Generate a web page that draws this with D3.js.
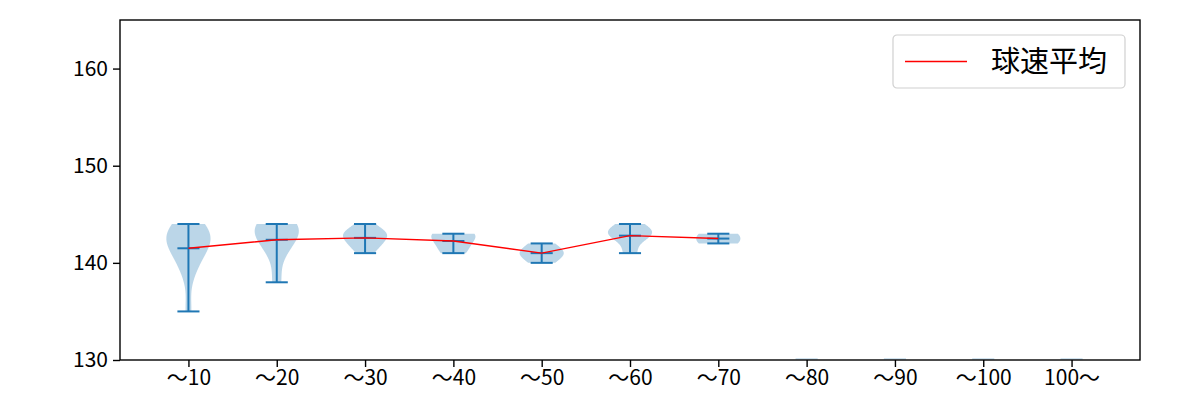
<!DOCTYPE html>
<html>
<head>
<meta charset="utf-8">
<script src="https://cdn.jsdelivr.net/npm/d3@7"></script>
<style>
  html, body { margin: 0; padding: 0; background: #fff; }
  svg { display: block; }
</style>
</head>
<body>
<svg id="chart" width="1200" height="400"></svg>
<script>
// ---- data ----
const categories = ["～10", "～20", "～30", "～40", "～50", "～60", "～70", "～80", "～90", "～100", "100～"];
// estimated pitch speeds (km/h) per category
const speeds10 = [135, 139, 140, 141, 142, 142, 142, 143, 143, 143, 144, 144];
const speeds20 = [138, 141, 142, 143, 143, 144, 144, 144];
const speeds30 = [141, 142, 142, 143, 143, 143, 144];
const speeds40 = [141, 142, 143, 143];
const speeds50 = [140, 141, 141, 142];
const speeds60 = [141, 143, 143, 143, 144];
const speeds70 = [142, 143];
const speeds80 = [];
const speeds90 = [];
const speeds100 = [];
const speeds100plus = [];
const seriesData = [speeds10, speeds20, speeds30, speeds40, speeds50, speeds60, speeds70,
                    speeds80, speeds90, speeds100, speeds100plus];
const yTicks = [130, 140, 150, 160];
const legendLabel = "球速平均";

// ---- layout ----
const W = 1200, H = 400;
const m = { left: 120, right: 60, top: 20, bottom: 40 };
const pw = W - m.left - m.right, ph = H - m.top - m.bottom;
const violinWidth = 0.5;

const svg = d3.select("#chart");
const g = svg.append("g").attr("transform", `translate(${m.left},${m.top})`);

const n = categories.length;
const span = (n + violinWidth / 2) - (1 - violinWidth / 2);
const x = d3.scaleLinear()
  .domain([1 - violinWidth / 2 - span * 0.05, n + violinWidth / 2 + span * 0.05])
  .range([0, pw]);
const y = d3.scaleLinear().domain([130, 165]).range([ph, 0]);

const blue = "#1f77b4";

// gaussian KDE, scott bandwidth (like matplotlib)
function violinStats(data) {
  const k = data.length;
  const mean = d3.mean(data);
  const sd = d3.deviation(data);
  const bw = Math.pow(k, -0.2) * sd;
  const lo = d3.min(data), hi = d3.max(data);
  const coords = d3.range(100).map(i => lo + (hi - lo) * i / 99);
  const dens = coords.map(c => d3.sum(data, v => Math.exp(-0.5 * ((c - v) / bw) ** 2)) / (k * bw * Math.sqrt(2 * Math.PI)));
  const mx = d3.max(dens);
  return { mean, lo, hi, pts: coords.map((c, i) => ({ v: c, w: 0.5 * violinWidth * dens[i] / mx })) };
}

const stats = seriesData.map((d, i) => d.length ? Object.assign({ pos: i + 1 }, violinStats(d)) : { pos: i + 1, empty: true });

// violin bodies
stats.filter(s => !s.empty).forEach(s => {
  const area = d3.area()
    .y(p => y(p.v))
    .x0(p => x(s.pos - p.w))
    .x1(p => x(s.pos + p.w))
    .curve(d3.curveLinear);
  g.append("path").datum(s.pts).attr("d", area)
    .attr("fill", blue).attr("fill-opacity", 0.3).attr("stroke", "none");
});

// lines: vertical bar, extrema caps, mean
const cap = violinWidth * 0.25;
stats.filter(s => !s.empty).forEach(s => {
  const ln = (x1, y1, x2, y2) => g.append("line")
    .attr("x1", x1).attr("y1", y1).attr("x2", x2).attr("y2", y2)
    .attr("stroke", blue).attr("stroke-width", 2);
  ln(x(s.pos), y(s.lo), x(s.pos), y(s.hi));
  ln(x(s.pos - cap), y(s.hi), x(s.pos + cap), y(s.hi));
  ln(x(s.pos - cap), y(s.lo), x(s.pos + cap), y(s.lo));
  ln(x(s.pos - cap), y(s.mean), x(s.pos + cap), y(s.mean));
});
// empty categories: faint degenerate marks at the axis floor
stats.filter(s => s.empty).forEach(s => {
  g.append("line")
    .attr("x1", x(s.pos - cap)).attr("x2", x(s.pos + cap))
    .attr("y1", y.range()[0] - 1).attr("y2", y.range()[0] - 1)
    .attr("stroke", blue).attr("stroke-opacity", 0.2).attr("stroke-width", 2);
});

// mean line
const meanPts = stats.filter(s => !s.empty);
g.append("path").datum(meanPts)
  .attr("d", d3.line().x(s => x(s.pos)).y(s => y(s.mean)))
  .attr("fill", "none").attr("stroke", "#ff0000").attr("stroke-width", 1.4);

// axes
const font = "'Noto Sans CJK JP', 'Noto Sans', sans-serif";
const xAxis = g.append("g").attr("transform", `translate(0,${ph})`)
  .call(d3.axisBottom(x).tickValues(d3.range(1, n + 1)).tickFormat(i => categories[i - 1]).tickSize(7).tickPadding(3));
const yAxis = g.append("g")
  .call(d3.axisLeft(y).tickValues(yTicks).tickSize(7).tickPadding(5));
[xAxis, yAxis].forEach(a => {
  a.select(".domain").remove();
  a.selectAll(".tick line").attr("stroke", "#000").attr("stroke-width", 1.4);
  a.selectAll(".tick text").attr("fill", "#000").style("font-family", font).style("font-size", "21px");
});

// frame
g.append("rect").attr("x", 0).attr("y", 0).attr("width", pw).attr("height", ph)
  .attr("fill", "none").attr("stroke", "#000").attr("stroke-width", 1.4);

// legend
const lg = g.append("g").attr("transform", `translate(${pw - 15 - 232},15)`);
lg.append("rect").attr("x", 0).attr("y", 0).attr("width", 232).attr("height", 53)
  .attr("rx", 4).attr("fill", "#fff").attr("fill-opacity", 0.8)
  .attr("stroke", "#d0d0d0").attr("stroke-width", 1.2);
lg.append("line").attr("x1", 12).attr("x2", 74).attr("y1", 26.5).attr("y2", 26.5)
  .attr("stroke", "#ff0000").attr("stroke-width", 1.4);
lg.append("text").attr("x", 98).attr("y", 36.5)
  .style("font-family", font).style("font-size", "29px").attr("fill", "#000")
  .text(legendLabel);
</script>
</body>
</html>
